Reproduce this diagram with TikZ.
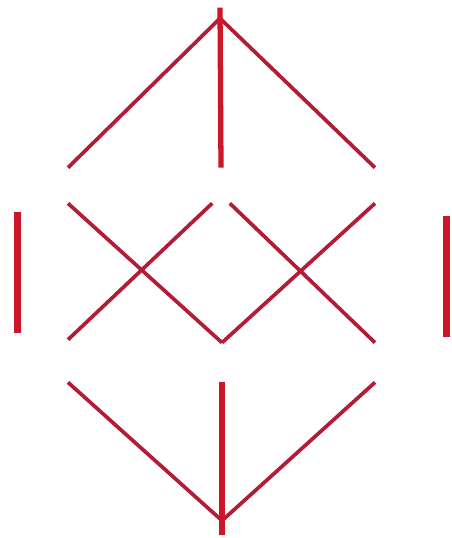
\documentclass[tikz,border=0pt]{standalone}
\usetikzlibrary{arrows.meta}
\definecolor{latred}{RGB}{205,22,42}
\definecolor{latdark}{RGB}{178,28,52}
\begin{document}
\begin{tikzpicture}[x=0.02cm, y=-0.02cm,
  elem/.style={rectangle, inner sep=0pt, minimum width=#1, minimum height=0.7cm},
  elem/.default=0.34cm,
  cover/.style={draw=latdark, line width=2.1pt},
  mainline/.style={draw=latred, line width=3pt},
  sidebar/.style={draw=latred, line width=4pt}]

\useasboundingbox (0,0) rectangle (451,538);

% Define the nodes with coordinates
\node[inner sep=0pt, minimum width=0pt, minimum height=0.2cm] (T) at (220,13) {};
\node[elem=2cm] (A1) at (68,185.5) {};
\node[elem] (A2) at (221,185.5) {};
\node[elem=2.84cm] (A3) at (375,185.5) {};
\node[elem=2cm, minimum height=0.84cm] (B1) at (68,361) {};
\node[elem, minimum height=0.78cm] (B2) at (222,362.5) {};
\node[elem=2.84cm, minimum height=0.78cm] (B3) at (375,362.5) {};
\node[inner sep=0pt, minimum width=0pt, minimum height=0.28cm] (Bo) at (222,528) {};

% Draw the covering edges
\draw[cover] (T.south) -- (A1.north);
\draw[cover] (T.south) -- (A3.north);
\draw[mainline] (T.north) -- (A2.north);

\draw[cover] (A1.south) -- (B2.north);
\draw[cover] (A2.south west) -- (B1.north);
\draw[cover] (A2.south east) -- (B3.north);
\draw[cover] (A3.south) -- (B2.north);
\draw[sidebar, shorten <=0.18cm, shorten >=0.14cm] (A1.south west) -- (B1.north west);
\draw[sidebar, shorten <=0.26cm, shorten >=0.12cm] (A3.south east) -- (B3.north east);

\draw[cover] (B1.south) -- (Bo.north);
\draw[cover] (B3.south) -- (Bo.north);
\draw[mainline] (B2.south) -- (Bo.south);

\end{tikzpicture}
\end{document}
